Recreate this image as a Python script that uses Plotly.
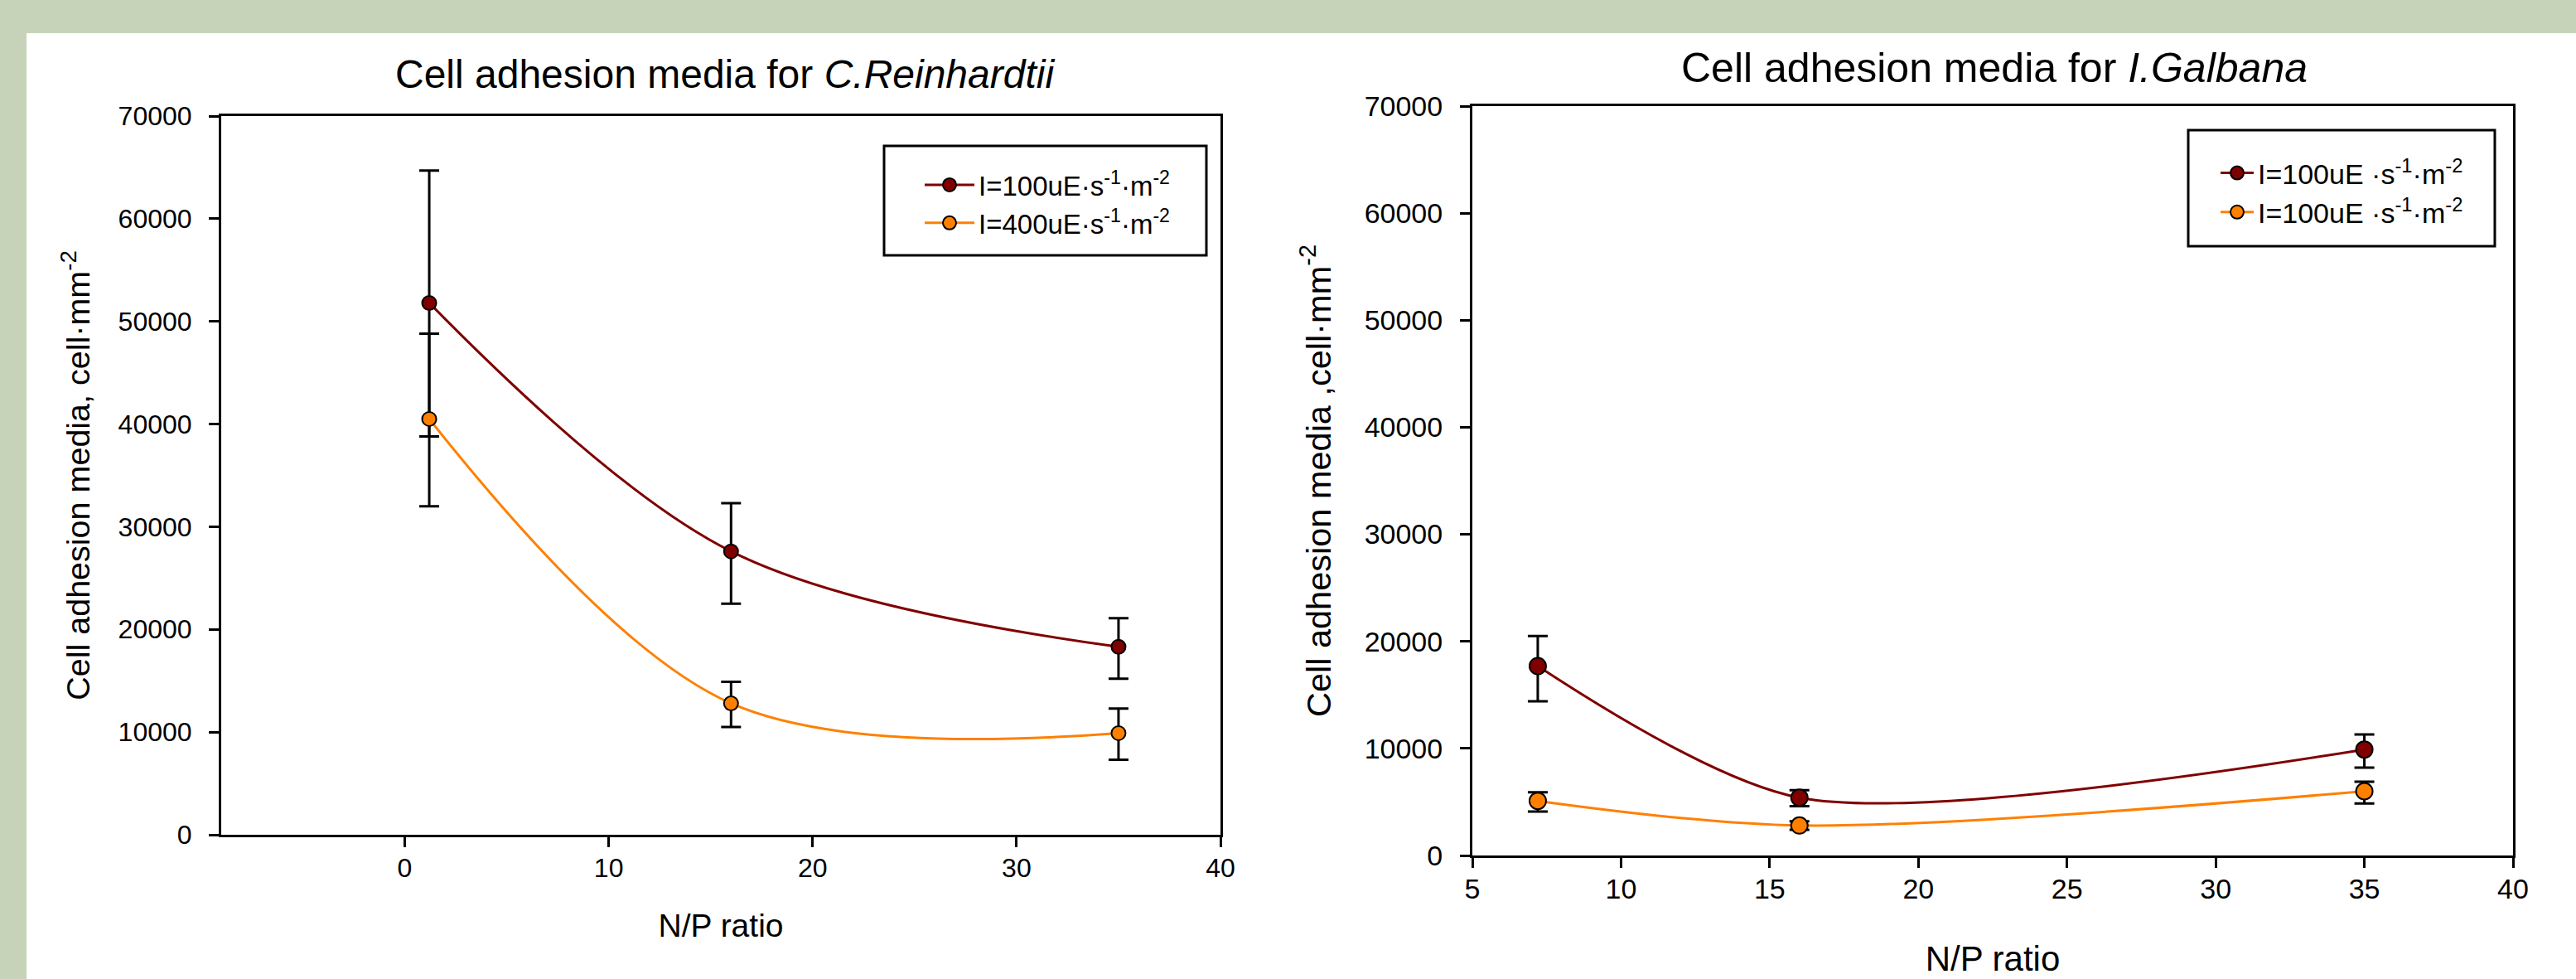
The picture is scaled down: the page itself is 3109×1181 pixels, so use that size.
import plotly.graph_objects as go

W, H = 3109, 1181

# ---------------- data ----------------
left_x = [1.2, 16, 35]
left_red = [51800, 27600, 18300]
left_red_err_plus = [12900, 4700, 2800]
left_red_err_minus = [13000, 5100, 3100]
left_orange = [40500, 12800, 9900]
left_orange_err_plus = [8300, 2100, 2400]
left_orange_err_minus = [8500, 2300, 2600]

right_x = [7.2, 16, 35]
right_red = [17700, 5400, 9900]
right_red_err_plus = [2800, 700, 1400]
right_red_err_minus = [3300, 800, 1700]
right_orange = [5100, 2800, 6000]
right_orange_err_plus = [800, 400, 900]
right_orange_err_minus = [1000, 400, 1150]

left_names = ["I=100uE·s<sup>-1</sup>·m<sup>-2</sup>", "I=400uE·s<sup>-1</sup>·m<sup>-2</sup>"]
right_names = ["I=100uE ·s<sup>-1</sup>·m<sup>-2</sup>", "I=100uE ·s<sup>-1</sup>·m<sup>-2</sup>"]

left_xticks = [0, 10, 20, 30, 40]
right_xticks = [5, 10, 15, 20, 25, 30, 35, 40]
yticks = [0, 10000, 20000, 30000, 40000, 50000, 60000, 70000]
ytick_labels = ["0", "10000", "20000", "30000", "40000", "50000", "60000", "70000"]

RED = "#800000"
ORANGE = "#ff8000"
GREEN = "#c6d3b8"
FONT = "Liberation Sans, Arial, sans-serif"


def px_x(p):
    return p / W


def px_y(p):
    return 1 - p / H


fig = go.Figure()


def add_series(x, y, ep, em, color, name, xa, ya, leg, msize, smooth):
    fig.add_trace(go.Scatter(
        x=x, y=y, name=name, mode="lines+markers",
        line=dict(color=color, width=3, shape="spline", smoothing=smooth),
        marker=dict(symbol="circle", size=msize, color=color,
                    line=dict(color="black", width=2)),
        error_y=dict(type="data", array=ep, arrayminus=em, visible=True,
                     color="black", thickness=3, width=12),
        xaxis=xa, yaxis=ya, legend=leg, legendgroup=name + leg,
    ))


add_series(left_x, left_red, left_red_err_plus, left_red_err_minus, RED, left_names[0], "x", "y", "legend", 17, 1.0)
add_series(left_x, left_orange, left_orange_err_plus, left_orange_err_minus, ORANGE, left_names[1], "x", "y", "legend", 17, 1.0)
add_series(right_x, right_red, right_red_err_plus, right_red_err_minus, RED, right_names[0], "x2", "y2", "legend2", 20, 0.8)
add_series(right_x, right_orange, right_orange_err_plus, right_orange_err_minus, ORANGE, right_names[1], "x2", "y2", "legend2", 20, 0.9)

axis_common = dict(showline=True, linecolor="black", linewidth=3, mirror=True,
                   ticks="outside", ticklen=12, tickwidth=3, tickcolor="black",
                   showgrid=False, zeroline=False, automargin=False)

fig.update_layout(
    width=W, height=H,
    autosize=False,
    margin=dict(l=0, r=0, t=0, b=0, pad=0, autoexpand=False),
    paper_bgcolor="white",
    plot_bgcolor="white",
    font=dict(family=FONT, color="black", size=32),
    xaxis=dict(domain=[px_x(267), px_x(1473)], range=[-9, 40], tickvals=left_xticks,
               anchor="y", ticklabelstandoff=-2,
               tickfont=dict(family=FONT, color="black", size=32),
               title=dict(text="N/P ratio", font=dict(size=39, family=FONT, color="black"), standoff=39),
               **axis_common),
    yaxis=dict(domain=[px_y(1007), px_y(140)], range=[0, 70000], tickvals=yticks, ticktext=ytick_labels,
               anchor="x", ticklabelstandoff=14,
               tickfont=dict(family=FONT, color="black", size=32),
               title=dict(text="Cell adhesion media, cell·mm<sup>-2</sup>",
                          font=dict(size=39.5, family=FONT, color="black"), standoff=22),
               **axis_common),
    xaxis2=dict(domain=[px_x(1777), px_x(3033)], range=[5, 40], tickvals=right_xticks,
                anchor="y2", ticklabelstandoff=-4,
                tickfont=dict(family=FONT, color="black", size=34),
                title=dict(text="N/P ratio", font=dict(size=42, family=FONT, color="black"), standoff=52),
                **axis_common),
    yaxis2=dict(domain=[px_y(1032), px_y(128)], range=[0, 70000], tickvals=yticks, ticktext=ytick_labels,
                anchor="x2", ticklabelstandoff=14,
                tickfont=dict(family=FONT, color="black", size=34),
                title=dict(text="Cell adhesion media ,cell·mm<sup>-2</sup>",
                           font=dict(size=41.5, family=FONT, color="black"), standoff=28),
                **axis_common),
    legend=dict(x=px_x(1111), y=px_y(195), xanchor="left", yanchor="top",
                bgcolor="rgba(0,0,0,0)", borderwidth=0,
                font=dict(size=33, family=FONT, color="black"),
                itemwidth=60, tracegroupgap=0),
    legend2=dict(x=px_x(2675), y=px_y(180), xanchor="left", yanchor="top",
                 bgcolor="rgba(0,0,0,0)", borderwidth=0,
                 font=dict(size=34, family=FONT, color="black"),
                 itemwidth=40, tracegroupgap=0),
    showlegend=True,
    shapes=[
        # green frame strips (top and left) of the slide background
        dict(type="rect", xref="paper", yref="paper", x0=0, x1=1, y0=px_y(40), y1=1,
             fillcolor=GREEN, line=dict(width=0), layer="below"),
        dict(type="rect", xref="paper", yref="paper", x0=0, x1=px_x(32), y0=0, y1=1,
             fillcolor=GREEN, line=dict(width=0), layer="below"),
        dict(type="rect", xref="paper", yref="paper", x0=px_x(1067), x1=px_x(1456), y0=px_y(308), y1=px_y(176),
             line=dict(color="black", width=3), fillcolor="rgba(0,0,0,0)"),
        dict(type="rect", xref="paper", yref="paper", x0=px_x(2641), x1=px_x(3011), y0=px_y(297), y1=px_y(157),
             line=dict(color="black", width=3), fillcolor="rgba(0,0,0,0)"),
    ],
    annotations=[
        dict(text="Cell adhesion media for <i>C.Reinhardtii</i>", xref="paper", yref="paper",
             x=px_x(875), y=px_y(90), xanchor="center", yanchor="middle", showarrow=False,
             font=dict(size=48, family=FONT, color="black")),
        dict(text="Cell adhesion media for <i>I.Galbana</i>", xref="paper", yref="paper",
             x=px_x(2407), y=px_y(82), xanchor="center", yanchor="middle", showarrow=False,
             font=dict(size=50, family=FONT, color="black")),
    ],
)

fig.write_html(
    "out.html",
    config={"displayModeBar": False},
    post_script="document.body.style.margin='0';document.body.style.overflow='hidden';"
                "document.documentElement.style.overflow='hidden';",
)
